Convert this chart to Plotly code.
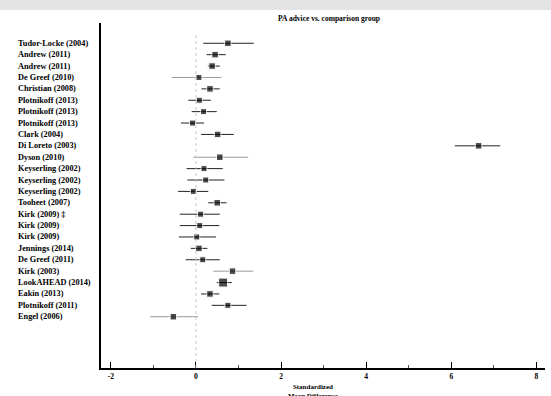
import plotly.graph_objects as go

studies = ["Tudor-Locke (2004)", "Andrew (2011)", "Andrew (2011)", "De Greef (2010)",
           "Christian (2008)", "Plotnikoff (2013)", "Plotnikoff (2013)", "Plotnikoff (2013)",
           "Clark (2004)", "Di Loreto (2003)", "Dyson (2010)", "Keyserling (2002)",
           "Keyserling (2002)", "Keyserling (2002)", "Tooheet (2007)", "Kirk (2009) ‡",
           "Kirk (2009)", "Kirk (2009)", "Jennings (2014)", "De Greef (2011)", "Kirk (2003)",
           "LookAHEAD (2014)", "Eakin (2013)", "Plotnikoff (2011)", "Engel (2006)"]
smd = [0.75, 0.45, 0.38, 0.07, 0.33, 0.08, 0.18, -0.08, 0.51, 6.64, 0.56, 0.19, 0.23,
       -0.06, 0.50, 0.11, 0.09, 0.02, 0.07, 0.16, 0.86, 0.64, 0.33, 0.75, -0.53]
lo = [0.17, 0.25, 0.28, -0.57, 0.13, -0.18, -0.10, -0.35, 0.12, 6.08, -0.06, -0.22, -0.20,
      -0.42, 0.29, -0.38, -0.38, -0.40, -0.12, -0.24, 0.41, 0.49, 0.12, 0.37, -1.08]
hi = [1.36, 0.70, 0.56, 0.60, 0.56, 0.35, 0.49, 0.19, 0.89, 7.15, 1.23, 0.63, 0.67,
      0.29, 0.72, 0.56, 0.55, 0.47, 0.27, 0.56, 1.35, 0.84, 0.55, 1.19, 0.05]
weight = [6.5, 6.5, 6.5, 6, 6.5, 6, 6, 6, 6.5, 6.5, 6.5, 6, 6, 6, 6.5, 6, 6, 6, 6.5, 6, 6.5, 9, 6.5, 6, 6.5]
light = [False, False, False, True, False, False, False, False, False, False, True, False,
         False, False, False, False, False, False, False, False, True, False, False, False, True]
major_ticks = [-2, 0, 2, 4, 6, 8]
tick_text = ["-2", "0", "2", "4", "6", "8"]
title = "PA advice vs. comparison group"
xlabel = "Standardized<br>Mean Difference"

ys = list(range(len(studies)))

fig = go.Figure()
for flag, color in [(True, "#9a9a9a"), (False, "#222222")]:
    xs, yy = [], []
    for i in ys:
        if light[i] == flag:
            xs += [lo[i], hi[i], None]
            yy += [i, i, None]
    fig.add_trace(go.Scatter(x=xs, y=yy, mode="lines", line=dict(color=color, width=1),
                             showlegend=False, hoverinfo="skip"))
fig.add_trace(go.Scatter(x=smd, y=ys, mode="markers",
                         marker=dict(symbol="square", color="black", size=weight),
                         showlegend=False))

font_serif = "Liberation Serif"
W, L, R, T, B = 551, 101, 6, 23, 28
pw = W - L - R
ph = 396 - T - B
for i, s in enumerate(studies):
    fig.add_annotation(x=(16 - L) / pw, xref="paper", y=i, yref="y", text="<b>%s</b>" % s,
                       showarrow=False, xanchor="left", yanchor="middle",
                       font=dict(family=font_serif, size=8.3, color="black"))

fig.add_annotation(x=(329 - L) / pw, xref="paper", y=(368 - 18.3) / ph, yref="paper",
                   yanchor="middle", text="<b>%s</b>" % title, showarrow=False,
                   font=dict(family=font_serif, size=7.5, color="black"))
fig.add_annotation(x=(313 - L) / pw, xref="paper", y=(368 - 381) / ph, yref="paper", yanchor="top",
                   text="<b>%s</b>" % xlabel, showarrow=False,
                   font=dict(family=font_serif, size=7, color="black"))

fig.add_shape(type="line", x0=0, x1=0, xref="x", y0=0, y1=(368 - 33) / ph, yref="paper",
              line=dict(color="#c8c8c8", width=1, dash="dot"))
fig.add_shape(type="rect", xref="paper", yref="paper", x0=-L / pw, x1=1 + R / pw,
              y0=(368 - 10) / ph, y1=(368 + 1) / ph, fillcolor="#e4e4e4", line=dict(width=0),
              layer="above")

fig.update_layout(
    width=551, height=396,
    margin=dict(l=L, r=R, t=T, b=B),
    plot_bgcolor="white", paper_bgcolor="white",
    xaxis=dict(range=[-2.23, 8.2], tickvals=major_ticks, ticktext=["<b>%s</b>" % t for t in tick_text],
               ticks="inside", ticklen=6, tickwidth=1, tickcolor="black",
               minor=dict(dtick=1, tick0=-1, ticks="inside", ticklen=3, tickcolor="#555", showgrid=False),
               showline=True, linecolor="black", linewidth=1.5, showgrid=False, zeroline=False,
               tickfont=dict(family=font_serif, size=7.5, color="black")),
    yaxis=dict(range=[28.5, -1.78], showticklabels=False, ticks="", showgrid=False,
               zeroline=False, showline=True, linecolor="black", linewidth=2),
)
fig.write_html("out.html", config={"displayModeBar": False},
               post_script="document.body.style.margin='0';document.body.style.overflow='hidden';")
